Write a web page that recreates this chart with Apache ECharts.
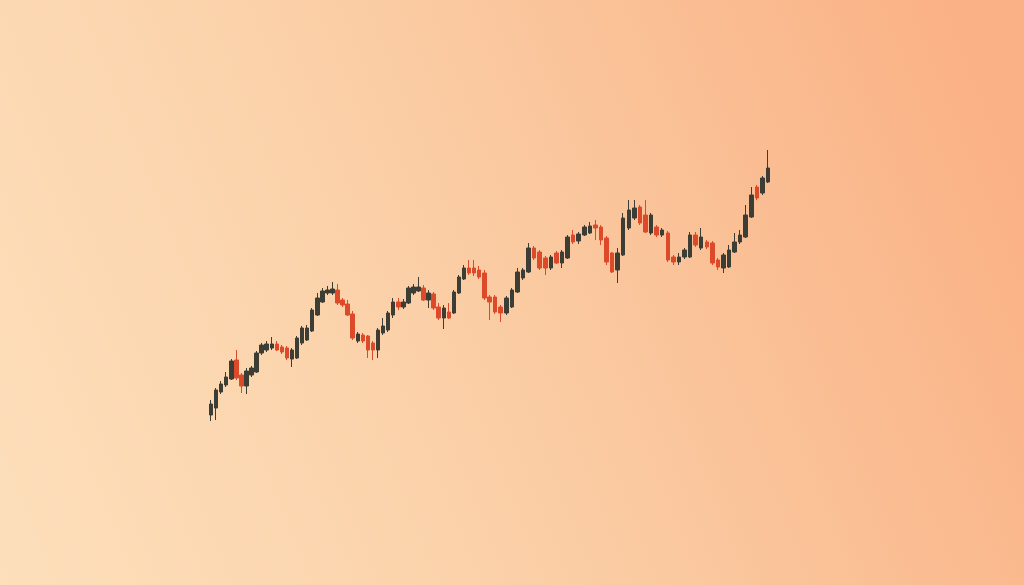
<!DOCTYPE html>
<html>
<head>
<meta charset="utf-8">
<style>
html,body{margin:0;padding:0;width:1024px;height:585px;overflow:hidden;}
#chart{width:1024px;height:585px;}
</style>
<script src="https://cdn.jsdelivr.net/npm/echarts@6/dist/echarts.min.js"></script>
</head>
<body>
<div id="chart"></div>
<script>
// Candle values (open, close, low, high)
const openVals  = [170,177,193,200,206,225,210,199,210,213,232,235,237,241,238,237,226,227,242,245,254,270,283,292,292,295,285,281,271,244,250,249,242,235,252,255,270,283,278,282,292,294,297,285,291,278,267,273,272,292,306,317,317,315,312,288,288,278,272,278,293,307,313,337,333,327,317,332,322,327,350,344,350,352,360,358,347,332,315,330,357,367,378,370,352,358,350,352,328,323,328,328,350,337,343,342,325,317,318,333,343,348,368,398,392,403];
const closeVals = [181,195,201,208,224,207,199,214,217,232,240,241,241,235,233,227,235,247,257,257,275,287,294,295,296,282,280,270,247,251,244,235,235,255,259,272,283,278,283,297,298,298,285,292,277,267,277,267,293,308,317,312,312,308,287,283,273,272,287,295,313,315,337,327,317,317,328,322,333,348,343,351,358,359,357,345,323,313,332,367,375,377,362,353,370,350,355,325,323,328,335,350,340,348,338,322,318,330,335,343,350,370,390,387,407,417];
const lowVals   = [164,165,191,198,205,205,192,191,208,212,230,233,235,234,231,225,218,226,240,244,253,269,282,290,290,280,278,269,245,242,242,227,225,227,250,253,267,275,276,281,290,293,284,277,275,265,256,266,271,291,305,310,309,306,285,265,271,263,270,277,292,305,312,325,315,310,315,321,317,326,341,341,349,351,345,340,320,312,302,329,355,365,360,352,350,348,348,323,320,320,326,327,338,335,336,320,315,312,317,332,341,347,367,385,390,402];
const highVals  = [185,197,204,213,226,235,212,217,219,234,242,244,248,244,240,239,237,249,259,260,277,292,297,299,303,301,287,285,274,253,252,250,244,257,267,274,287,287,286,299,301,308,300,295,293,282,280,282,295,310,320,325,325,319,315,290,290,280,289,297,317,317,342,339,335,329,330,334,335,350,355,353,360,363,365,360,349,333,337,372,385,385,380,385,372,360,357,354,330,332,337,353,353,357,345,344,327,332,340,352,355,380,398,400,409,435];
const categories = openVals.map((_, i) => 'D' + (i + 1));
// the picture's candles are spaced a little tighter in the first part than in the second
const splitAt = 55;

const candleData = openVals.map((o, i) => [o, closeVals[i], lowVals[i], highVals[i]]);

const UP = '#3c3d34', DOWN = '#dc4a2a';
const style = {color: UP, color0: DOWN, borderColor: UP, borderColor0: DOWN, borderWidth: 1};

const chart = echarts.init(document.getElementById('chart'), null, {renderer: 'canvas'});
chart.setOption({
  animation: false,
  backgroundColor: new echarts.graphic.LinearGradient(0, 1, 1, 0.3, [
    {offset: 0, color: '#fddfbb'},
    {offset: 0.4, color: '#fbd2aa'},
    {offset: 1, color: '#fab185'}
  ]),
  grid: [
    {left: 208.5, width: 278.3, top: 0, bottom: 0},
    {left: 486.8, right: 253.2, top: 0, bottom: 0}
  ],
  xAxis: [
    {type: 'category', gridIndex: 0, data: categories.slice(0, splitAt), boundaryGap: true, show: false},
    {type: 'category', gridIndex: 1, data: categories.slice(splitAt), boundaryGap: true, show: false}
  ],
  yAxis: [
    {type: 'value', gridIndex: 0, min: 0, max: 585, show: false},
    {type: 'value', gridIndex: 1, min: 0, max: 585, show: false}
  ],
  series: [{
    type: 'candlestick',
    xAxisIndex: 0, yAxisIndex: 0,
    data: candleData.slice(0, splitAt),
    barWidth: 4,
    itemStyle: style
  }, {
    type: 'candlestick',
    xAxisIndex: 1, yAxisIndex: 1,
    data: candleData.slice(splitAt),
    barWidth: 4,
    itemStyle: style
  }]
});
</script>
</body>
</html>
